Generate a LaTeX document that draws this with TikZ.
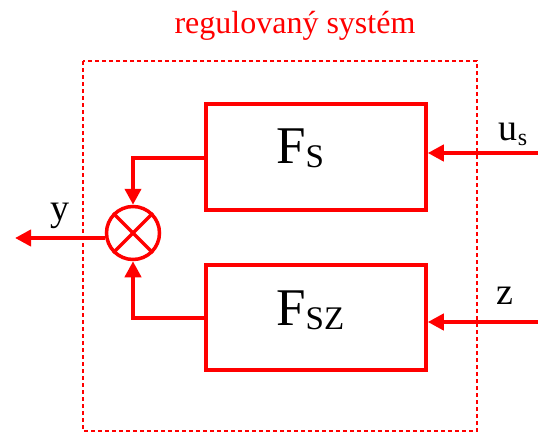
\documentclass[tikz,border=0pt]{standalone}
\usepackage{fontspec}
\setmainfont{Liberation Serif}
\usetikzlibrary{arrows.meta}
\begin{document}
\begin{tikzpicture}[x=1pt,y=-1pt,
  blk/.style={draw=red,line width=3.5pt,minimum width=220pt,inner sep=0pt},
  blklbl/.style={anchor=base west,inner sep=0pt,font=\fontsize{53}{53}\selectfont},
  sig/.style={red,line width=4pt,-{Triangle[length=16pt,width=16pt]}},
  lbl/.style={inner sep=0pt,font=\fontsize{38}{38}\selectfont}]
  \useasboundingbox (0,0) rectangle (538,434);

  % frame of the plant
  \draw[red,line width=1.3pt,dash pattern=on 4pt off 3pt] (83,61) rectangle (477,431);
  \node[red,font=\fontsize{32}{32}\selectfont] (title) at (295,26) {regulovaný systém};

  % blocks
  \node[blk,minimum height=106pt] (fs) at (316,157) {};
  \node[blk,minimum height=105pt] (fsz) at (316,317.5) {};
  \node[blklbl] (fslbl) at (276,163) {F\raisebox{-4pt}{\fontsize{33}{33}\selectfont S}};
  \node[blklbl] (fszlbl) at (276,325) {F\raisebox{-4pt}{\fontsize{33}{33}\selectfont SZ}};

  % summing point
  \node[draw=red,line width=3.5pt,circle,minimum size=53pt,inner sep=0pt] (sum) at (133,233) {};
  \draw[red,line width=3.5pt] (sum.north west) -- (sum.south east);
  \draw[red,line width=3.5pt] (sum.north east) -- (sum.south west);

  \coordinate (usin) at (538,153);
  \coordinate (zin) at (538,322);
  \coordinate (yout) at (15,238);

  \draw[sig] (usin) -- (usin -| fs.east);
  \draw[sig] (zin) -- (zin -| fsz.east);
  \draw[sig] (fs.west |- 0,158) -| (sum.north);
  \draw[sig] (fsz.west) -| (sum.south);
  \draw[sig] (sum.west |- yout) -- (yout);

  \node[lbl] (ylbl) at (60,216) {y};
  \node[lbl] (uslbl) at (513,134) {u\raisebox{-5pt}{\fontsize{24}{24}\selectfont s}};
  \node[lbl] (zlbl) at (505,296) {z};
\end{tikzpicture}
\end{document}
